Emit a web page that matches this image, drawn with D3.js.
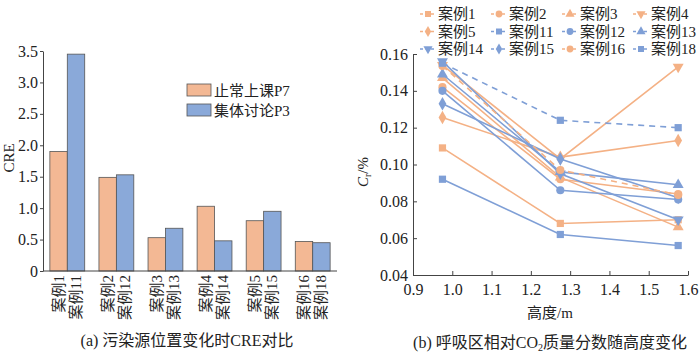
<!DOCTYPE html>
<html>
<head>
<meta charset="utf-8">
<script src="https://cdn.jsdelivr.net/npm/d3@7"></script>
<style>
  body { margin: 0; background: #fff; }
  svg text { font-family: "Liberation Serif", "Noto Sans CJK SC", serif; fill: #222; }
</style>
</head>
<body>
<svg width="700" height="353"></svg>
<script>
// ---- data: (a) bar chart ----
var groupLabels = [["案例1", "案例11"], ["案例2", "案例12"], ["案例3", "案例13"],
                   ["案例4", "案例14"], ["案例5", "案例15"], ["案例16", "案例18"]];
var seriesNames = ["止常上课P7", "集体讨论P3"];
var normalCRE = [1.90, 1.49, 0.53, 1.03, 0.80, 0.47];
var groupCRE  = [3.45, 1.53, 0.68, 0.48, 0.95, 0.45];
var creTicks = [0, 0.5, 1.0, 1.5, 2.0, 2.5, 3.0, 3.5];

// ---- data: (b) line chart ----
var heights = [0.975, 1.275, 1.575];
var caseNames = ["案例1", "案例2", "案例3", "案例4", "案例5", "案例11",
                 "案例12", "案例13", "案例14", "案例15", "案例16", "案例18"];
var caseValues = [
  [0.109, 0.068, 0.070],
  [0.142, 0.092, 0.084],
  [0.147, 0.093, 0.066],
  [0.154, 0.103, 0.153],
  [0.1255, 0.104, 0.113],
  [0.092, 0.062, 0.056],
  [0.140, 0.086, 0.081],
  [0.149, 0.096, 0.089],
  [0.156, 0.095, 0.070],
  [0.133, 0.103, 0.082],
  [0.1535, 0.097, 0.0835],
  [0.155, 0.124, 0.120]
];
var caseGroup = ["o", "o", "o", "o", "o", "b", "b", "b", "b", "b", "o", "b"];
var caseSymbol = ["square", "circle", "tri", "triDown", "diamond", "square",
                  "circle", "tri", "triDown", "diamond", "circle", "square"];
var caseDashed = [false, false, false, false, false, false, false, false, false, false, true, true];
var xTicks = [0.9, 1.0, 1.1, 1.2, 1.3, 1.4, 1.5, 1.6];
var yTicks = [0.04, 0.06, 0.08, 0.10, 0.12, 0.14, 0.16];

var svg = d3.select("svg");
var orangeBar = "#f3b894", blueBar = "#8aa9d9";
var orange = "#f4b185", blue = "#7f9fd6";

// ================= (a) =================
var ya = d3.scaleLinear().domain([0, 3.5]).range([271, 51]);
var xa = d3.scaleBand().domain(d3.range(groupLabels.length)).range([43, 337])
  .paddingInner(0.29).paddingOuter(0.14);
var xs = d3.scaleBand().domain([0, 1]).range([0, xa.bandwidth()]);

var ga = svg.append("g");
var bars = ga.selectAll("g.grp").data(d3.range(groupLabels.length)).enter()
  .append("g").attr("transform", function(i) { return "translate(" + xa(i) + ",0)"; });

bars.selectAll("rect").data(function(i) { return [normalCRE[i], groupCRE[i]]; }).enter()
  .append("rect")
  .attr("x", function(d, j) { return xs(j); })
  .attr("width", xs.bandwidth())
  .attr("y", function(d) { return ya(d); })
  .attr("height", function(d) { return ya(0) - ya(d); })
  .attr("fill", function(d, j) { return j ? blueBar : orangeBar; })
  .attr("stroke", "#555").attr("stroke-width", 0.8);

// rotated case labels
bars.selectAll("text").data(function(i) { return groupLabels[i]; }).enter()
  .append("text")
  .attr("transform", function(d, j) {
    return "translate(" + (xs(j) + xs.bandwidth() / 2 + 5) + ",275) rotate(-90)";
  })
  .attr("text-anchor", "end")
  .style("font-size", "15px")
  .text(function(d) { return d; });

var yAxisA = d3.axisLeft(ya).tickValues(creTicks).tickSize(3).tickSizeOuter(0)
  .tickFormat(function(d) { return d === 0 ? "0" : d3.format(".1f")(d); });
var gya = ga.append("g").attr("transform", "translate(43,0)").call(yAxisA);
gya.selectAll("text").style("font-size", "16px").attr("x", -5);
gya.select(".domain").attr("stroke", "#444");
gya.selectAll(".tick line").attr("stroke", "#444");

ga.append("line").attr("x1", 43).attr("x2", 337).attr("y1", ya(0)).attr("y2", ya(0))
  .attr("stroke", "#444");

ga.append("text").attr("transform", "translate(14,158) rotate(-90)")
  .attr("text-anchor", "middle").style("font-size", "15px").text("CRE");

// legend
var lega = ga.selectAll("g.leg").data(seriesNames).enter().append("g")
  .attr("transform", function(d, i) { return "translate(187," + (84 + i * 20) + ")"; });
lega.append("rect").attr("width", 24).attr("height", 12)
  .attr("fill", function(d, i) { return i ? blueBar : orangeBar; })
  .attr("stroke", "#555").attr("stroke-width", 0.8);
lega.append("text").attr("x", 27).attr("y", 12).style("font-size", "15px")
  .text(function(d) { return d; });

ga.append("text").attr("x", 187).attr("y", 346).attr("text-anchor", "middle")
  .style("font-size", "16px").text("(a) 污染源位置变化时CRE对比");

// ================= (b) =================
var xb = d3.scaleLinear().domain([0.9, 1.6]).range([413, 688]);
var yb = d3.scaleLinear().domain([0.04, 0.16]).range([275, 54]);
var gb = svg.append("g");

var xAxisB = d3.axisBottom(xb).tickValues(xTicks).tickSize(-4).tickSizeOuter(0)
  .tickFormat(d3.format(".1f"));
var gxb = gb.append("g").attr("transform", "translate(0,275)").call(xAxisB);
gxb.selectAll("text").style("font-size", "16px").attr("y", 9);
var yAxisB = d3.axisLeft(yb).tickValues(yTicks).tickSize(-4).tickSizeOuter(0)
  .tickFormat(d3.format(".2f"));
var gyb = gb.append("g").attr("transform", "translate(413,0)").call(yAxisB);
gyb.selectAll("text").style("font-size", "16px").attr("x", -5);
gb.selectAll(".domain, .tick line").attr("stroke", "#444");

var symbolGen = {
  square: d3.symbol().type(d3.symbolSquare),
  circle: d3.symbol().type(d3.symbolCircle),
  tri: d3.symbol().type(d3.symbolTriangle),
  triDown: d3.symbol().type(d3.symbolTriangle),
  diamond: d3.symbol().type(d3.symbolDiamond)
};
function symPath(name, size) { return symbolGen[name].size(size)(); }
function symRot(name) { return name === "triDown" ? " rotate(180)" : ""; }
function col(i) { return caseGroup[i] === "o" ? orange : blue; }

var line = d3.line().x(function(d, k) { return xb(heights[k]); }).y(function(d) { return yb(d); });

var series = gb.selectAll("g.case").data(d3.range(caseNames.length)).enter().append("g");
series.append("path")
  .attr("d", function(i) { return line(caseValues[i]); })
  .attr("fill", "none")
  .attr("stroke", col)
  .attr("stroke-width", 1.6)
  .attr("stroke-dasharray", function(i) { return caseDashed[i] ? "6,5" : null; });
series.selectAll("path.mk").data(function(i) {
    return caseValues[i].map(function(v, k) { return { i: i, k: k, v: v }; });
  }).enter().append("path").attr("class", "mk")
  .attr("d", function(d) { return symPath(caseSymbol[d.i], 52); })
  .attr("transform", function(d) {
    return "translate(" + xb(heights[d.k]) + "," + yb(d.v) + ")" + symRot(caseSymbol[d.i]);
  })
  .attr("fill", function(d) { return col(d.i); });

// legend
var legb = gb.selectAll("g.legb").data(d3.range(caseNames.length)).enter().append("g")
  .attr("transform", function(i) {
    return "translate(" + (420 + (i % 4) * 71) + "," + (14 + Math.floor(i / 4) * 17.5) + ")";
  });
legb.append("line").attr("x1", 0).attr("x2", 16).attr("y1", 0).attr("y2", 0)
  .attr("stroke", col).attr("stroke-width", 1.4).attr("stroke-dasharray", "3,2.5");
legb.append("path")
  .attr("d", function(i) { return symPath(caseSymbol[i], 36); })
  .attr("transform", function(i) { return "translate(8,0)" + symRot(caseSymbol[i]); })
  .attr("fill", col);
legb.append("text").attr("x", 18).attr("y", 5).style("font-size", "15px")
  .text(function(i) { return caseNames[i]; });

// axis titles
var yl = gb.append("text").attr("transform", "translate(368,172) rotate(-90)")
  .attr("text-anchor", "middle").style("font-size", "15px");
yl.append("tspan").style("font-style", "italic").text("C");
yl.append("tspan").attr("dy", 3).style("font-size", "10px").text("r");
yl.append("tspan").attr("dy", -3).text("/%");

gb.append("text").attr("x", 550).attr("y", 318).attr("text-anchor", "middle")
  .style("font-size", "15px").text("高度/m");

var cap = gb.append("text").attr("x", 550).attr("y", 348).attr("text-anchor", "middle")
  .style("font-size", "16px");
cap.append("tspan").text("(b) 呼吸区相对CO");
cap.append("tspan").attr("dy", 3).style("font-size", "10px").text("2");
cap.append("tspan").attr("dy", -3).text("质量分数随高度变化");
</script>
</body>
</html>
